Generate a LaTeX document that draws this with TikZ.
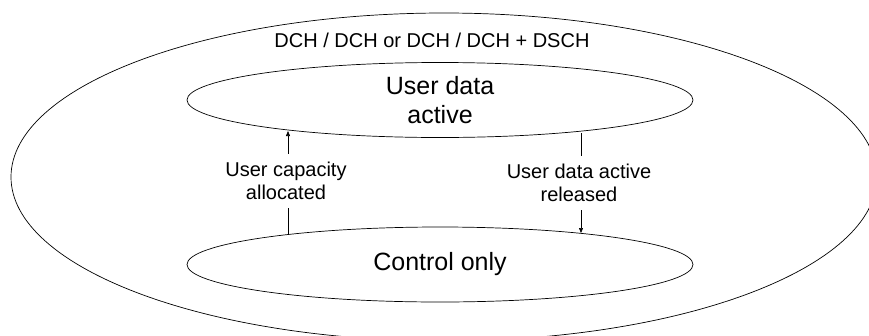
\documentclass[tikz,border=0pt]{standalone}
\usepackage{fontspec}
\setmainfont{Liberation Sans}
\usetikzlibrary{shapes.geometric,arrows.meta}
\begin{document}
\begin{tikzpicture}[x=1pt,y=-1pt,
  state/.style={ellipse,draw,line width=0.7pt,minimum width=506pt,minimum height=75pt,inner sep=0pt,align=center,font=\fontsize{25}{29}\selectfont},
  edgelbl/.style={align=center,font=\fontsize{20}{23.5}\selectfont,inner xsep=0pt,inner ysep=8pt},
  conn/.style={line width=0.6pt},
  tip/.style={-{Triangle[length=5pt,width=4pt]}}]
\useasboundingbox (0,0) rectangle (869,335);
\begin{scope}
\clip (0,0) rectangle (869,335);
\draw[line width=0.7pt] (444,177) ellipse [x radius=433, y radius=164];
\end{scope}
\node[anchor=base,font=\fontsize{20}{24}\selectfont] (outer) at (432,47) {DCH / DCH or DCH / DCH + DSCH};
\node[state] (uda) at (440,100) {User data\\active};
\node[state] (co) at (440,264.5) {Control only};
\node[edgelbl] (l1) at (286,181) {User capacity\\allocated};
\node[edgelbl] (l2) at (579,183) {User data active\\released};
\coordinate (a1) at (288,131);
\coordinate (b1) at (288,234);
\coordinate (a2) at (581,133);
\coordinate (b2) at (581,233);
\draw[conn,tip] (l1.north -| a1) -- (a1);
\draw[conn] (l1.south -| b1) -- (b1);
\draw[conn] (a2) -- (l2.north -| a2);
\draw[conn,tip] (l2.south -| b2) -- (b2);
\end{tikzpicture}
\end{document}
